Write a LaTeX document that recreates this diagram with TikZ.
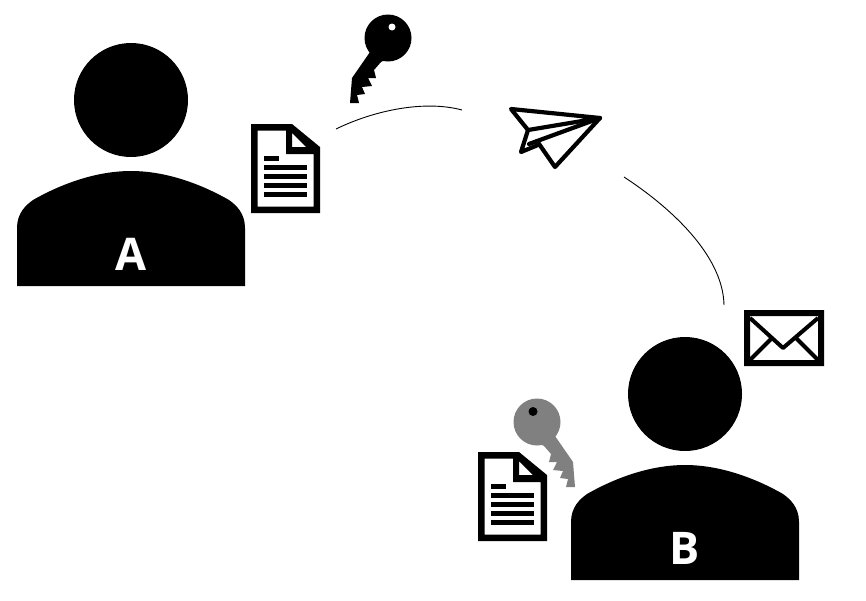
\documentclass[tikz,border=0pt]{standalone}
\usepackage{fontspec}
\setmainfont{Open Sans}
\tikzset{
  person/.pic={
    \fill (0,0) circle (57);
    \fill (-114,186) -- (-114,128) .. controls (-114,113) and (-105,105) .. (-98,100)
      .. controls (-70,84) and (-35,71) .. (0,71) .. controls (35,71) and (70,84) .. (98,100)
      .. controls (105,105) and (114,113) .. (114,128) -- (114,186) -- cycle;
    \node[text=white,font=\bfseries\fontsize{45}{45}\selectfont,inner sep=0pt] (-label) at (0,154) {\tikzpictext};
  },
  document/.pic={
    \fill[even odd rule] (0,0) -- (41,0) -- (69,23) -- (69,89) -- (0,89) -- cycle
      (6.5,6.5) -- (6.5,82.5) -- (62.5,82.5) -- (62.5,30) -- (35,30) -- (35,6.5) -- cycle
      (41,9) -- (41,23) -- (55,23) -- cycle;
    \fill (13,31.5) rectangle (28,36.5);
    \foreach \y in {40.5,49.5,58.5,67.5} {
      \fill (13,\y) rectangle (56,\y+5);
    }
  },
  keyshape/.pic={
    \fill (0,0) circle (23.5);
    \fill (-18,14) -- (-36,40) -- (-38,65) -- (-29,65) -- (-31,57) -- (-23,56) -- (-26,49)
      -- (-16,48) -- (-20,40) -- (-12,40) -- (-14,32) -- (-7,24) -- (0,20) -- cycle;
  },
  planefold/.style={line width=4.2pt,line join=round,line cap=round},
  thread/.style={line width=0.9pt}
}
\begin{document}
\begin{tikzpicture}[x=1pt,y=-1pt]
  \useasboundingbox (0,0) rectangle (866,600);
  \pic[pic text=A] (a) at (131,100) {person};
  \pic[pic text=B] (b) at (685,394) {person};
  \pic (doca) at (251,124) {document};
  \pic (docb) at (478,452) {document};
  \pic (keya) at (388,38) {keyshape};
  \fill[white] (392,27) circle (3.5);
  \begin{scope}[gray]
    \pic[xscale=-1] (keyb) at (537,422) {keyshape};
  \end{scope}
  \fill (533,411.5) circle (4.5);
  \draw[planefold] (511,109) -- (600,118) -- (528,130) -- cycle;
  \draw[planefold] (528,130) -- (521,152) -- (538,145);
  \draw[planefold] (529,144) -- (600,118);
  \draw[planefold] (537,141) -- (555,167) -- (600,118);
  \fill[even odd rule] (744,310) rectangle (824,366) (750,316) rectangle (818,360);
  \draw[line width=4pt,line join=round] (750,318) -- (783,348) -- (818,318);
  \draw[line width=4pt] (750,360) -- (772,338) (818,360) -- (796,338);
  \coordinate (threada) at (336,129);
  \coordinate (threadb) at (462,110);
  \coordinate (threadc) at (624,177);
  \coordinate (threadd) at (724,305);
  \draw[thread] (threada) .. controls (375,110) and (425,100) .. (threadb);
  \draw[thread] (threadc) .. controls (670,207) and (723,255) .. (threadd);
\end{tikzpicture}
\end{document}
